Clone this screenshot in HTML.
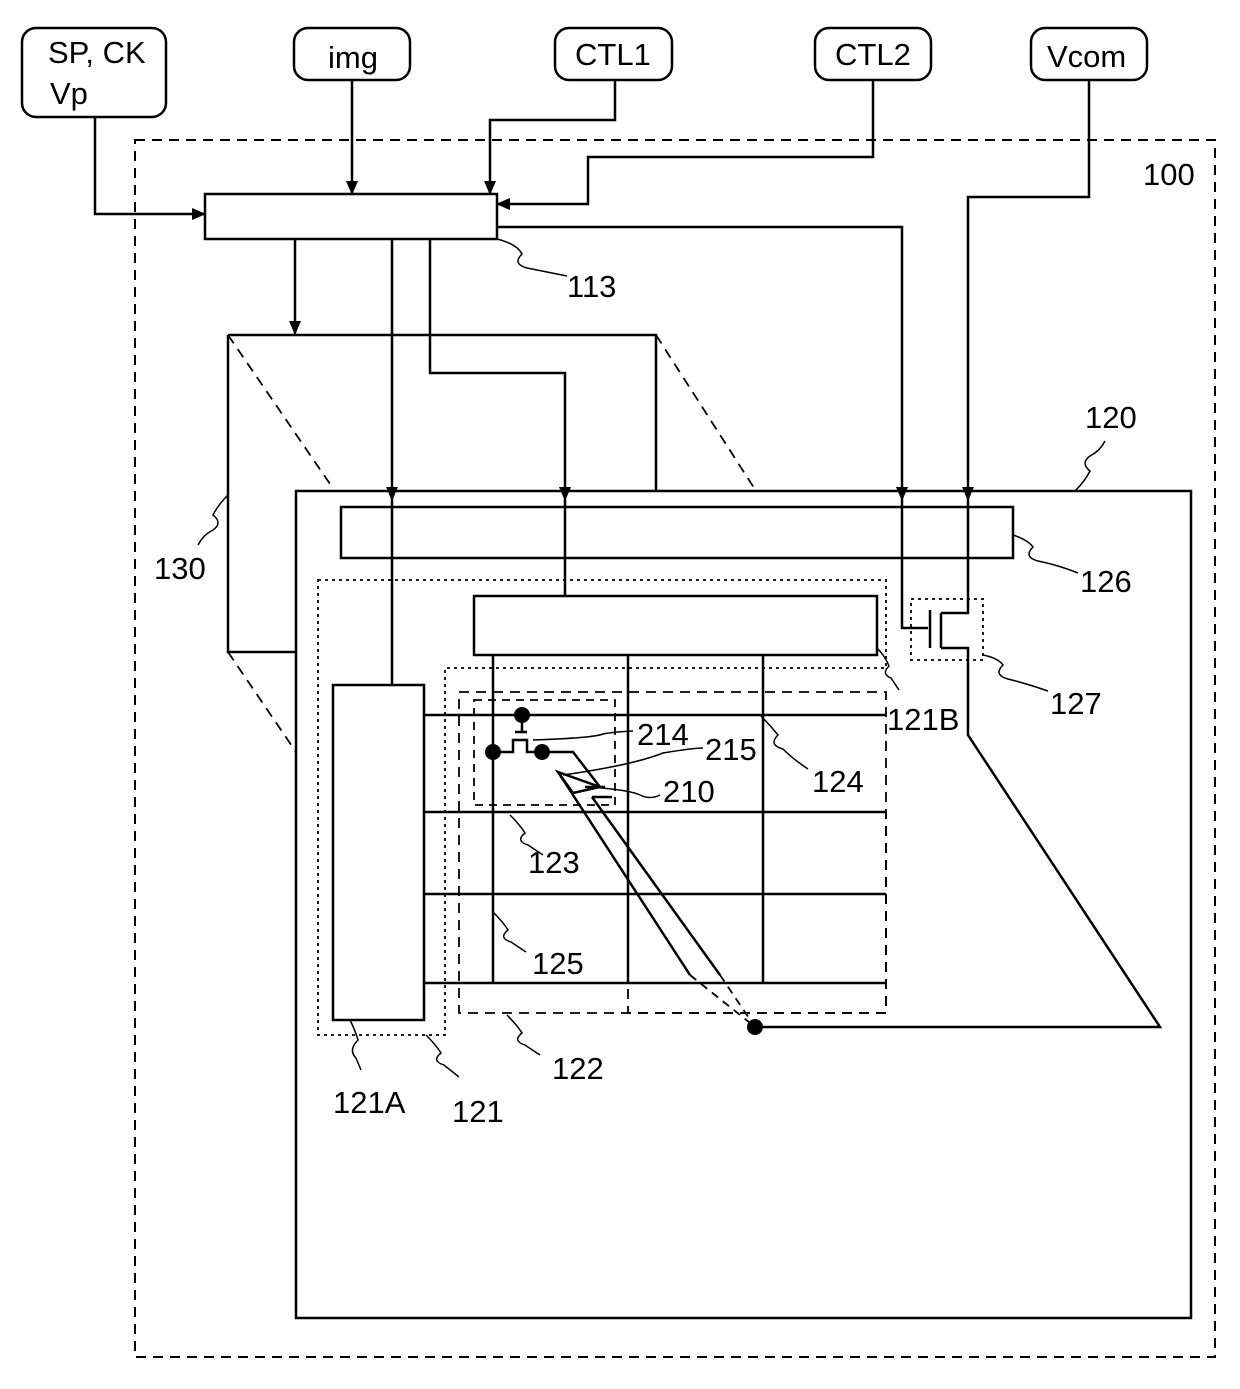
<!DOCTYPE html><html><head><style>body{margin:0;background:#fff}svg{display:block}text{font-family:"Liberation Sans",sans-serif;font-size:31px;fill:#000}</style></head><body>
<svg width="1240" height="1389" viewBox="0 0 1240 1389" xmlns="http://www.w3.org/2000/svg">
<defs><marker id="a" markerWidth="10" markerHeight="10" refX="9" refY="5" orient="auto" markerUnits="userSpaceOnUse"><path d="M0,0 L10,5 L0,10 z" fill="#000"/></marker>
<marker id="b" markerWidth="14" markerHeight="14" refX="13" refY="6" orient="auto" markerUnits="userSpaceOnUse"><path d="M0,0 L14,6 L0,12 z" fill="#000"/></marker></defs>
<g fill="none" stroke="#000" stroke-width="2.5">
<rect x="22" y="28" width="144" height="89" rx="14"/>
<rect x="294" y="28" width="116" height="52" rx="14"/>
<rect x="555" y="28" width="117" height="52" rx="14"/>
<rect x="815" y="28" width="116" height="52" rx="14"/>
<rect x="1031" y="28" width="116" height="52" rx="14"/>
<rect x="135" y="140" width="1080" height="1217" stroke-dasharray="10,7" stroke-width="2"/>
<rect x="205" y="194" width="292" height="45"/>
<path d="M95,117 V214 H205" marker-end="url(#b)"/>
<path d="M352,80 V194" marker-end="url(#b)"/>
<path d="M615,80 V120 H490 V194" marker-end="url(#b)"/>
<path d="M873,80 V157 H588 V204 H497" marker-end="url(#b)"/>
<path d="M1089,80 V197 H968 V500" marker-end="url(#b)"/>
<path d="M497,227 H902 V500" marker-end="url(#b)"/>
<path d="M295,239 V334" marker-end="url(#b)"/>
<path d="M392,239 V500" marker-end="url(#b)"/>
<path d="M392,500 V685"/>
<path d="M430,239 V373 H565 V500" marker-end="url(#b)"/>
<path d="M565,500 V596"/>
<path d="M228,335 H656 V491 M228,335 V652 H296"/>
<path d="M228,335 L330,484 M656,335 L756,491 M228,652 L296,752" stroke-dasharray="10,7" stroke-width="1.8"/>
<rect x="296" y="491" width="895" height="827"/>
<rect x="341" y="507" width="672" height="51"/>
<rect x="474" y="596" width="403" height="59"/>
<path d="M318,580 H886 V668 H445 V1035 H318 Z" stroke-dasharray="3,4" stroke-width="1.8"/>
<rect x="333" y="685" width="91" height="335"/>
<path d="M424,715 H886 M424,812 H886 M424,894 H886 M424,983 H886"/>
<path d="M493,655 V983 M628,655 V983 M763,655 V983"/>
<rect x="459" y="692" width="427" height="321" stroke-dasharray="10,7" stroke-width="1.8"/>
<rect x="628" y="812" width="258" height="201" stroke-dasharray="10,7" stroke-width="1.8"/>
<rect x="474" y="700" width="141" height="105" stroke-dasharray="8,6" stroke-width="1.8"/>
<rect x="911" y="599" width="72" height="61" stroke-dasharray="3,4" stroke-width="1.8"/>
<path d="M902,500 V628 H928 M930,610 V648 M941,613 V648 M941,613 H968 V500 M941,648 H968 V735 L1160,1027 H755"/>
<path d="M493,752 H513 V740 H527 V752 H542 M515,732 H527 M522,715 V732"/>
<path d="M542,752 H573 L600,787 M558,772 L600,787 L573,793 Z"/>
<path d="M585,787 H605 M592,797 H612"/>
<path d="M560,775 L690,975 M592,797 L720,975"/>
<path d="M690,975 L755,1027 M720,975 L755,1027" stroke-dasharray="8,6" stroke-width="1.8"/>
</g>
<g fill="#000"><circle cx="493" cy="752" r="8"/><circle cx="522" cy="715" r="8"/><circle cx="542" cy="752" r="8"/><circle cx="755" cy="1027" r="8"/></g>
<g fill="none" stroke="#000" stroke-width="1.5">
<path d="M497,239 q20,5 25,15 q-10,10 5,14 q20,4 40,8"/>
<path d="M1075,491 q10,-10 15,-20 q-10,-8 0,-15 q10,-5 15,-15"/>
<path d="M228,495 q-10,10 -15,20 q10,8 0,15 q-10,5 -15,15"/>
<path d="M1013,535 q15,5 20,12 q-10,10 5,14 q20,4 40,12"/>
<path d="M983,655 q15,3 20,10 q-10,10 5,14 q20,5 40,12"/>
<path d="M877,648 q8,8 12,18 q-8,8 2,12 l8,12"/>
<path d="M760,715 q10,10 18,20 q-10,10 5,14 q10,10 25,20"/>
<path d="M533,740 q60,-2 70,-6 q10,-2 30,-3"/>
<path d="M563,775 q70,-10 100,-22 q30,-5 40,-5"/>
<path d="M590,787 q40,3 50,8 q10,5 20,0"/>
<path d="M510,815 q10,10 15,18 q-10,8 3,12 l15,10"/>
<path d="M493,912 q10,10 15,18 q-10,8 3,12 l15,10"/>
<path d="M507,1015 q10,10 15,18 q-10,8 3,12 l15,10"/>
<path d="M426,1035 q10,10 15,18 q-10,8 3,12 l15,12"/>
<path d="M350,1020 q5,10 8,20 q-10,10 -2,18 l5,12"/>
</g>
<text x="48" y="63">SP, CK</text><text x="50" y="104">Vp</text>
<text x="328" y="68">img</text><text x="575" y="65">CTL1</text><text x="835" y="65">CTL2</text><text x="1047" y="67">Vcom</text>
<text x="1143" y="185">100</text><text x="567" y="297">113</text><text x="1085" y="428">120</text>
<text x="154" y="579">130</text><text x="1080" y="592">126</text><text x="1050" y="714">127</text>
<text x="887" y="730">121B</text><text x="812" y="792">124</text><text x="637" y="745">214</text>
<text x="705" y="760">215</text><text x="663" y="802">210</text><text x="528" y="873">123</text>
<text x="532" y="974">125</text><text x="552" y="1079">122</text><text x="452" y="1122">121</text><text x="333" y="1113">121A</text>
</svg></body></html>
